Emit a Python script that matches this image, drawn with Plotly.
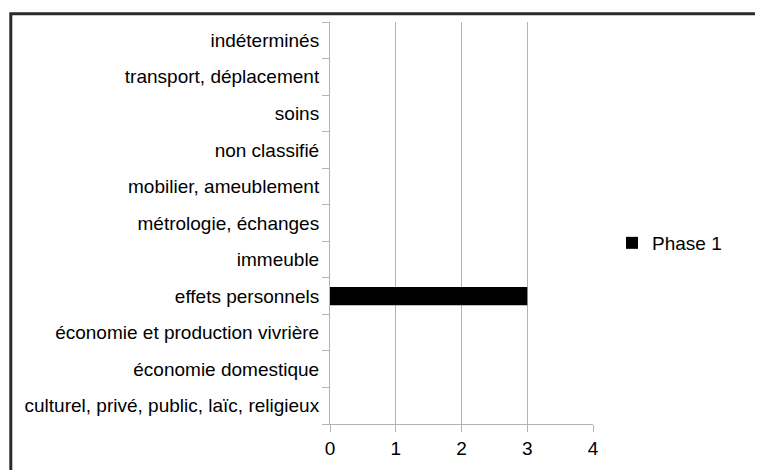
import plotly.graph_objects as go

categories = [
    "culturel, privé, public, laïc, religieux",
    "économie domestique",
    "économie et production vivrière",
    "effets personnels",
    "immeuble",
    "métrologie, échanges",
    "mobilier, ameublement",
    "non classifié",
    "soins",
    "transport, déplacement",
    "indéterminés",
]
phase1 = [0, 0, 0, 3, 0, 0, 0, 0, 0, 0, 0]
x_ticks = [0, 1, 2, 3, 4]

W, H = 763, 470
OFF = 8  # page body margin
# plot area in page pixels
PL, PR, PT, PB = 330, 593, 22, 424
L = PL - OFF
T = PT - OFF
R = W - (PR - OFF)
B = H - (PB - OFF)
pw, ph = PR - PL, PB - PT

def px_to_paper_x(px):
    return (px - PL) / pw

def px_to_paper_y(py):
    return (PB - py) / ph

FONT = "Liberation Sans, Arial, sans-serif"
GRID = "#b3b3b3"

fig = go.Figure()
fig.add_trace(go.Bar(
    y=categories, x=phase1, orientation="h", name="Phase 1",
    marker=dict(color="#000000", line=dict(width=0)), width=0.5,
    showlegend=True,
))

fig.update_layout(
    width=W, height=H,
    margin=dict(l=L, r=R, t=T, b=B, pad=0, autoexpand=False),
    paper_bgcolor="white", plot_bgcolor="white",
    font=dict(family=FONT, size=19, color="#000000"),
    showlegend=True,
    legend=dict(
        x=px_to_paper_x(612), y=px_to_paper_y(243), xanchor="left", yanchor="middle",
        font=dict(family=FONT, size=19, color="#000000"),
        bgcolor="rgba(0,0,0,0)", borderwidth=0,
    ),
    xaxis=dict(
        range=[0, 4], tickvals=x_ticks, ticktext=[str(v) for v in x_ticks],
        showgrid=True, gridcolor=GRID, gridwidth=1,
        showline=True, linecolor=GRID, linewidth=1,
        ticks="outside", ticklen=7, tickcolor=GRID, tickwidth=1,
        zeroline=False, fixedrange=True, automargin=False,
    ),
    yaxis=dict(
        type="category", categoryorder="array", categoryarray=categories,
        range=[-0.5, len(categories) - 0.5],
        showgrid=False, showline=True, linecolor=GRID, linewidth=1,
        ticks="outside", ticklen=7, tickcolor=GRID, tickwidth=1,
        tickson="boundaries", ticklabelstandoff=6,
        zeroline=False, fixedrange=True, automargin=False,
    ),
    shapes=[dict(
        type="rect", xref="paper", yref="paper",
        x0=px_to_paper_x(10.8), x1=px_to_paper_x(W + 30),
        y0=px_to_paper_y(H + 30), y1=px_to_paper_y(13.7),
        line=dict(color="#2b2b2b", width=3), fillcolor="rgba(0,0,0,0)",
        layer="above",
    )],
)

fig.write_html("out.html")
